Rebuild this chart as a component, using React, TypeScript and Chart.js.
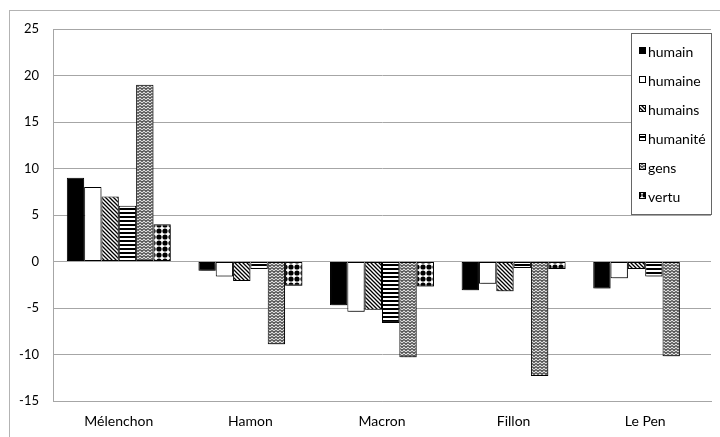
import React, { useEffect, useRef } from "react";
import { Chart, registerables } from "chart.js";

Chart.register(...registerables);

// ---- data ----
const categories = ["Mélenchon", "Hamon", "Macron", "Fillon", "Le Pen"];
const seriesNames = ["humain", "humaine", "humains", "humanité", "gens", "vertu"];
const humain = [9, -1.0, -4.7, -3.1, -2.9];
const humaine = [8, -1.6, -5.4, -2.4, -1.8];
const humains = [7, -2.1, -5.2, -3.2, -0.8];
const humanite = [6, -0.8, -6.6, -0.7, -1.6];
const gens = [19, -8.9, -10.3, -12.3, -10.2];
const vertu = [4, -2.6, -2.7, -0.8, null];
const yMin = -15;
const yMax = 25;
const yStep = 5;

const seriesValues = [humain, humaine, humains, humanite, gens, vertu];

type Kind = "solid" | "white" | "diag" | "horiz" | "zigzag" | "dots";
const kinds: Kind[] = ["solid", "white", "diag", "horiz", "zigzag", "dots"];

function makeFill(ctx: CanvasRenderingContext2D, kind: Kind): any {
  if (kind === "solid") return "#000000";
  if (kind === "white") return "#ffffff";
  const t = document.createElement("canvas");
  const g = t.getContext("2d")!;
  if (kind === "diag") {
    t.width = 4; t.height = 4;
    g.fillStyle = "#fff"; g.fillRect(0, 0, 4, 4);
    g.strokeStyle = "#000"; g.lineWidth = 1.3;
    g.beginPath();
    g.moveTo(-1, -1); g.lineTo(5, 5);
    g.moveTo(-1, 3); g.lineTo(1, 5);
    g.moveTo(3, -1); g.lineTo(5, 1);
    g.stroke();
  } else if (kind === "horiz") {
    t.width = 4; t.height = 4;
    g.fillStyle = "#fff"; g.fillRect(0, 0, 4, 4);
    g.fillStyle = "#000"; g.fillRect(0, 0, 4, 2);
  } else if (kind === "zigzag") {
    t.width = 4; t.height = 3;
    g.fillStyle = "#e6e6e6"; g.fillRect(0, 0, 4, 3);
    g.strokeStyle = "#444"; g.lineWidth = 1.1;
    g.beginPath();
    g.moveTo(0, 0.5); g.lineTo(2, 2.5); g.lineTo(4, 0.5);
    g.stroke();
  } else {
    t.width = 6; t.height = 6;
    g.fillStyle = "#fff"; g.fillRect(0, 0, 6, 6);
    g.fillStyle = "#000";
    g.beginPath(); g.arc(3, 3, 2.6, 0, Math.PI * 2); g.fill();
  }
  return ctx.createPattern(t, "repeat");
}

const framePlugin = {
  id: "outerFrame",
  beforeDraw(chart: any) {
    const c = chart.ctx;
    c.save();
    c.fillStyle = "#fff";
    c.fillRect(0, 0, chart.width, chart.height);
    c.strokeStyle = "#b3b3b3";
    c.lineWidth = 1;
    c.strokeRect(9.5, 10.5, 800, 500);
    c.restore();
  },
};

const shadowPlugin = {
  id: "barShadow",
  beforeDatasetsDraw(chart: any) {
    const c = chart.ctx;
    c.save();
    c.shadowColor = "rgba(0,0,0,0.35)";
    c.shadowOffsetX = 2;
    c.shadowOffsetY = 2;
    c.shadowBlur = 2;
  },
  afterDatasetsDraw(chart: any) {
    chart.ctx.restore();
  },
};

const legendPlugin = {
  id: "boxLegend",
  afterDraw(chart: any) {
    const c = chart.ctx;
    const x = 631, y = 33, w = 80, h = 181;
    c.save();
    c.fillStyle = "#fff";
    c.fillRect(x, y, w, h);
    c.strokeStyle = "#666";
    c.lineWidth = 1;
    c.strokeRect(x + 0.5, y + 0.5, w, h);
    chart.data.datasets.forEach((ds: any, i: number) => {
      const cy = 51 + i * 29;
      c.fillStyle = ds.backgroundColor;
      c.fillRect(639, cy - 4, 7, 7);
      c.strokeStyle = "#000";
      c.strokeRect(639.5, cy - 3.5, 6, 6);
      c.fillStyle = "#000";
      c.font = "14px Lato";
      c.textBaseline = "middle";
      c.textAlign = "left";
      c.fillText(ds.label, 648, cy + 1);
    });
    c.restore();
  },
};

export default function App() {
  const ref = useRef<HTMLCanvasElement | null>(null);
  useEffect(() => {
    const canvas = ref.current!;
    const ctx = canvas.getContext("2d")!;
    Chart.defaults.font.family = "Lato";
    const chart = new Chart(ctx, {
      type: "bar",
      data: {
        labels: categories,
        datasets: seriesNames.map((name, i) => ({
          label: name,
          data: seriesValues[i] as any,
          backgroundColor: makeFill(ctx, kinds[i]),
          borderColor: "#000",
          borderWidth: 1,
          borderSkipped: false as any,
          barPercentage: 1,
          categoryPercentage: 0.79,
        })),
      },
      options: {
        animation: false,
        responsive: false,
        maintainAspectRatio: false,
        devicePixelRatio: 1,
        layout: { padding: { top: 29, right: 9, left: 0, bottom: 0 } },
        plugins: { legend: { display: false }, tooltip: { enabled: false } },
        scales: {
          x: {
            grid: { display: false, drawTicks: false },
            border: { display: true, color: "#a6a6a6" },
            ticks: { padding: 12, color: "#000", font: { family: "Lato", size: 14 } },
            afterFit: (s: any) => { s.height = 36; },
          },
          y: {
            min: yMin,
            max: yMax,
            ticks: { stepSize: yStep, padding: 14, color: "#000", font: { family: "Lato", size: 13 } },
            grid: { color: "#a6a6a6", drawTicks: false },
            border: { display: true, color: "#a6a6a6" },
            afterFit: (s: any) => { s.width = 53; },
          },
        },
      },
      plugins: [framePlugin, shadowPlugin, legendPlugin],
    });
    return () => chart.destroy();
  }, []);
  return (
    <div style={{ position: "fixed", left: 0, top: 0, width: 720, height: 437, background: "#fff" }}>
      <canvas ref={ref} width={720} height={437} style={{ display: "block", width: 720, height: 437 }} />
    </div>
  );
}
